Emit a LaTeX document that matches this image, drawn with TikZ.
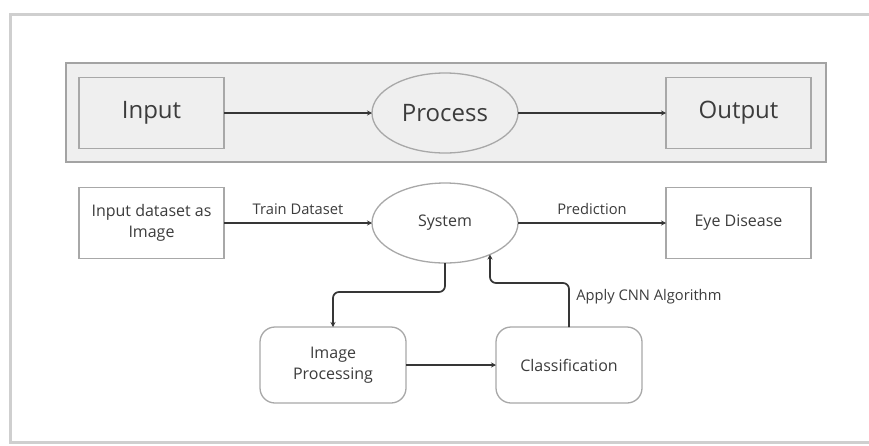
\documentclass[tikz,border=0pt]{standalone}
\usepackage{fontspec}
\setmainfont{Open Sans}
\usepackage{tikz}
\usetikzlibrary{arrows.meta}
\usetikzlibrary{shapes.geometric}
\usetikzlibrary{calc}

\definecolor{framegray}{HTML}{CFCFCF}
\definecolor{bandgray}{HTML}{EFEFEF}
\definecolor{bandline}{HTML}{A3A3A3}
\definecolor{boxgray}{HTML}{A8A8A8}
\definecolor{textgray}{HTML}{3C3C3C}
\definecolor{linegray}{HTML}{363636}

\begin{document}
\begin{tikzpicture}[x=1pt, y=-1pt, node distance=0pt, outer sep=0pt]
          \newcommand{\boxwidth}{145pt}
          \newcommand{\boxheight}{71pt}
          \newcommand{\ovalwidth}{146pt}
          \newcommand{\ovalheight}{80pt}
          \newcommand{\hgap}{148pt}
          \newcommand{\rowstep}{110pt}

          \tikzstyle{boxt}=[
            draw=boxgray,
            rectangle,
            minimum height=\boxheight,
            minimum width=\boxwidth,
            fill=white,
            anchor=west,
            align=center,
            text=textgray,
            line width=1.3pt
          ]
          \tikzstyle{oval}=[
            boxt,
            ellipse,
            inner sep=0pt,
            minimum height=\ovalheight,
            minimum width=\ovalwidth
          ]
          \tikzstyle{roundt}=[
            boxt,
            rounded corners=15pt,
            minimum height=76pt,
            minimum width=146pt
          ]
          \tikzstyle{big}=[font=\fontsize{24}{28}\selectfont]
          \tikzstyle{small}=[font=\fontsize{16}{21}\selectfont]
          \tikzstyle{lbl}=[text=textgray, font=\fontsize{14.7}{17}\selectfont]
          \tikzstyle{arrow} = [line width=1.7pt, -{Stealth[length=5pt,width=5pt]}, draw=linegray]

          \useasboundingbox (0,0) rectangle (869,445);
          \fill[white] (0,0) rectangle (869,445);

          % paper frame
          \draw[framegray, line width=3pt] (875,14) -- (10,14) -- (10,442) -- (875,442);

          \coordinate (origo) at (79,113);

          % top band
          \node[draw=bandline, fill=bandgray, line width=1.5pt, minimum width=760pt, minimum height=99pt] (band) at (446,112.5) {};
          \node[boxt, big, fill=bandgray] (input) at (origo) {Input};
          \node[oval, big, fill=bandgray] (process) at ([xshift=\hgap] input.east) {Process};
          \node[boxt, big, fill=bandgray] (output) at ([xshift=\hgap] process.east) {Output};

          \draw[arrow, line width=1.5pt] (input) -- (process);
          \draw[arrow, line width=1.5pt] (process) -- (output);

          % model flow
          \node[boxt, small] (dataset) at ([yshift=-\rowstep] origo) {Input dataset as\\Image};
          \node[oval, small] (system) at ([xshift=\hgap] dataset.east) {System};
          \node[boxt, small] (disease) at ([xshift=\hgap] system.east) {Eye Disease};

          \node[roundt, small] (improc) at (260,365) {Image\\Processing};
          \node[roundt, small] (classif) at ([xshift=90pt] improc.east) {Classification};

          \draw[arrow] (dataset) -- node[lbl, above=5pt] {Train Dataset} (system);
          \draw[arrow] (system) -- node[lbl, above=5pt] {Prediction} (disease);
          \draw[arrow] (improc) -- (classif);
          \draw[arrow, rounded corners=6pt] (system.south) -- ++(0,29) -| (improc.north);
          \draw[arrow, rounded corners=6pt] (classif.north) -- node[lbl, pos=0.7, right=4pt] {Apply CNN Algorithm} ++(0,-44) -| (system.-35);

        \end{tikzpicture}
\end{document}
